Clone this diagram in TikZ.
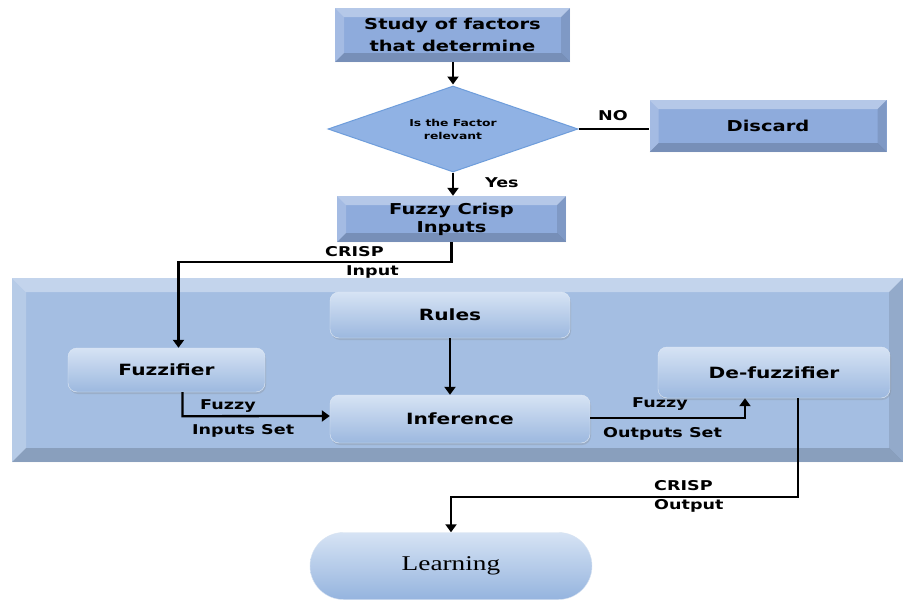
\documentclass[tikz,border=0pt]{standalone}
\usepackage{fontspec}
\setmainfont[FakeStretch=1.3]{DejaVu Sans}
\newfontfamily\learnfont[FakeStretch=1.3]{Liberation Serif}
\usetikzlibrary{shapes.geometric,shapes.misc,arrows.meta,shadows}
\definecolor{boxblue}{HTML}{8EABDC}
\definecolor{panelblue}{HTML}{A4BEE2}
\definecolor{paleblue}{HTML}{D6E3F4}
\definecolor{midblue}{HTML}{9CB8DF}
\definecolor{edgeblue}{HTML}{6E9DDB}
\definecolor{diamblue}{HTML}{90B2E4}

\tikzset{
  bevel/.style={path picture={
    \fill[white,opacity=.35] (path picture bounding box.north west) -- (path picture bounding box.north east)
      -- ([shift={(-#1,-#1)}]path picture bounding box.north east) -- ([shift={(#1,-#1)}]path picture bounding box.north west) -- cycle;
    \fill[white,opacity=.2] (path picture bounding box.north west) -- (path picture bounding box.south west)
      -- ([shift={(#1,#1)}]path picture bounding box.south west) -- ([shift={(#1,-#1)}]path picture bounding box.north west) -- cycle;
    \fill[black,opacity=.1] (path picture bounding box.north east) -- (path picture bounding box.south east)
      -- ([shift={(-#1,#1)}]path picture bounding box.south east) -- ([shift={(-#1,-#1)}]path picture bounding box.north east) -- cycle;
    \fill[black,opacity=.16] (path picture bounding box.south west) -- (path picture bounding box.south east)
      -- ([shift={(-#1,#1)}]path picture bounding box.south east) -- ([shift={(#1,#1)}]path picture bounding box.south west) -- cycle;
  }},
  flatbox/.style={rectangle, fill=boxblue, bevel=9pt, inner sep=0pt, align=center,
    font=\fontsize{15}{22}\selectfont\bfseries},
  softbox/.style={rectangle, rounded corners=9pt, top color=paleblue, bottom color=midblue,
    draw=white!70!midblue, drop shadow={opacity=.25, shadow xshift=1pt, shadow yshift=-2pt},
    inner sep=0pt, font=\fontsize{15.5}{18}\selectfont\bfseries},
  decision/.style={diamond, aspect=2.9, fill=diamblue, draw=edgeblue, line width=1pt, inner sep=0pt,
    align=center, font=\fontsize{9.5}{13}\selectfont\bfseries},
  endcap/.style={rounded rectangle, top color=paleblue, bottom color=midblue!85!edgeblue,
    draw=white!60!midblue, inner sep=0pt, font=\fontsize{21}{24}\selectfont\learnfont},
  lbl/.style={align=left, inner sep=0pt, anchor=west, font=\fontsize{13.5}{19}\selectfont\bfseries},
  flow/.style={line width=2.3pt, -{Triangle[width=11pt,length=8pt]}},
  link/.style={line width=2.3pt},
}

\begin{document}
\begin{tikzpicture}[x=1pt,y=-1pt]
\useasboundingbox[fill=white] (0,0) rectangle (903,605);

% panel of the fuzzy system
\node[rectangle, fill=panelblue, bevel=14pt, minimum width=891, minimum height=184, inner sep=0pt] (panel) at (457.5,370) {};

% top of the flow
\node[flatbox, minimum width=235, minimum height=54] (study) at (452.5,35) {Study of factors\\that determine};
\node[decision, minimum width=250, minimum height=86] (relevant) at (453,129) {Is the Factor\\relevant};
\node[flatbox, minimum width=237, minimum height=52] (discard) at (768,126) {Discard};
\node[flatbox, minimum width=229, minimum height=46, font=\fontsize{15}{18}\selectfont\bfseries] (crispin) at (451.5,219) {Fuzzy Crisp\\Inputs};

% inside the panel
\node[softbox, minimum width=240, minimum height=46] (rules) at (450,315) {Rules};
\node[softbox, minimum width=197, minimum height=44] (fuzzifier) at (166.5,370) {Fuzzifier};
\node[softbox, minimum width=260, minimum height=48] (inference) at (460,419) {Inference};
\node[softbox, minimum width=232, minimum height=51] (defuzzifier) at (774,372.5) {De-fuzzifier};

\node[endcap, minimum width=282, minimum height=67] (learning) at (451,566) {Learning};

% connectors
\draw[flow] (study.south -| relevant.north) -- ([yshift=1pt]relevant.north);
\draw[link] (relevant.east) -- (discard.west |- relevant.east);
\node[lbl] (no) at (598,116) {NO};
\draw[flow] (relevant.south) -- (relevant.south |- crispin.north);
\node[lbl] (yes) at (485,183) {Yes};

\draw[flow] (crispin.south) -- ++(0,20) -| ([xshift=12]fuzzifier.north);
\node[lbl] (crispinlbl) at (325,262) {CRISP\\\hspace*{21pt}Input};

\draw[flow] (rules.south) -- (rules.south |- inference.north);

\coordinate (fzout) at ([xshift=16]fuzzifier.south);
\draw[flow] (fzout) -- ++(0,24) -- (inference.west |- 0,416);
\node[lbl] (fzlbl) at (192,418) {\hspace*{8pt}Fuzzy\\[6pt]Inputs Set};

\coordinate (dfin) at ([xshift=-29]defuzzifier.south);
\draw[flow] (inference.east |- 0,418) -| (dfin);
\node[lbl] (outlbl) at (603,419) {\hspace*{29pt}Fuzzy\\[11pt]Outputs Set};

\draw[flow] ([xshift=24]defuzzifier.south) |- (learning.north |- 0,497) -- (learning.north);
\node[lbl] (crispout) at (654,496) {CRISP\\Output};
\end{tikzpicture}
\end{document}
